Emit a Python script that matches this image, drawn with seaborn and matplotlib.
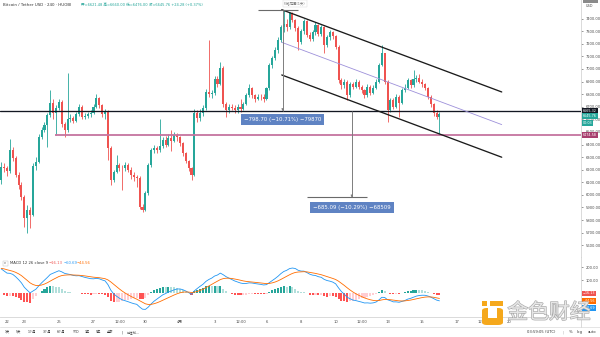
import numpy as np
import pandas as pd
import matplotlib
matplotlib.use("Agg")
import matplotlib.pyplot as plt
import matplotlib.patheffects as pe
from matplotlib.patches import FancyBboxPatch, Rectangle
from matplotlib.lines import Line2D
import seaborn as sns

# ---- BTC/USDT 4h candles on HUOBI, 21 Mar 04:00 -> 16 Apr 00:00 (UTC) ----
first_open = 6118
closes = [
    6224, 6210, 6190, 6356, 6290, 6158, 6078, 5985, 5814, 5880,
    5840, 6230, 6263, 6462, 6515, 6555, 6634, 6732, 6650, 6690,
    6740, 6560, 6515, 6600, 6610, 6590, 6640, 6700, 6620, 6630,
    6640, 6650, 6700, 6770, 6710, 6640, 6660, 6370, 6118, 6184,
    6237, 6215, 6210, 6237, 6200, 6160, 6140, 6135, 5906, 5880,
    6012, 6237, 6356, 6370, 6360, 6390, 6436, 6400, 6450, 6430,
    6475, 6460, 6410, 6330, 6270, 6210, 6160, 6650, 6610, 6650,
    6687, 6819, 6800, 6806, 6920, 6880, 7007, 6720, 6674, 6700,
    6690, 6670, 6700, 6680, 6720, 6790, 6845, 6793, 6765, 6780,
    6775, 6760, 6846, 7031, 7084, 7150, 7230, 7335, 7360, 7335,
    7442, 7390, 7325, 7216, 7300, 7380, 7270, 7240, 7290, 7350,
    7280, 7330, 7190, 7250, 7290, 7260, 7176, 6912, 6870, 6900,
    6793, 6880, 6860, 6900, 6860, 6830, 6793, 6860, 6810, 6850,
    6900, 7031, 7123, 6899, 6674, 6753, 6700, 6780, 6730, 6833,
    6850, 6912, 6870, 6920, 6930, 6900, 6880, 6850, 6779, 6720,
    6650, 6621.48, 6645.76,
]
highs = [
    6260, 6250, 6230, 6441, 6380, 6310, 6180, 6100, 6000, 5920,
    5900, 6250, 6300, 6480, 6540, 6580, 6650, 6833, 6760, 6710,
    6760, 6750, 6580, 6965, 6640, 6630, 6660, 6720, 6710, 6650,
    6660, 6670, 6720, 6800, 6780, 6720, 6680, 6670, 6390, 6200,
    6316, 6250, 6240, 6260, 6250, 6220, 6180, 6160, 6150, 5930,
    6030, 6250, 6370, 6400, 6390, 6602, 6460, 6470, 6480, 6515,
    6500, 6490, 6470, 6420, 6340, 6280, 6220, 6680, 6670, 6680,
    6710, 6840, 7230, 6830, 6940, 6940, 7057, 7020, 6740, 6720,
    6720, 6710, 6720, 6760, 6740, 6810, 6880, 6860, 6800, 6800,
    6800, 6800, 6860, 7050, 7100, 7170, 7250, 7350, 7464.02, 7400,
    7455, 7450, 7400, 7340, 7320, 7400, 7390, 7290, 7310, 7370,
    7360, 7350, 7340, 7270, 7310, 7300, 7270, 7190, 6930, 6920,
    6910, 6900, 6900, 6920, 6910, 6870, 6840, 6880, 6870, 6870,
    6920, 7050, 7190, 7130, 6910, 6770, 6770, 6800, 6790, 6850,
    6880, 6930, 6920, 6991, 6950, 6960, 6920, 6890, 6860, 6790,
    6730, 6670, 6660,
]
lows = [
    6090, 6180, 6150, 6170, 6270, 6140, 6050, 5960, 5747, 5697,
    5735, 5830, 6200, 6250, 6440, 6500, 6382, 6620, 6600, 6474,
    6670, 6540, 6462, 6500, 6580, 6570, 6580, 6630, 6600, 6600,
    6610, 6620, 6640, 6690, 6690, 6620, 6600, 6280, 6078, 6100,
    6170, 6190, 6039, 6190, 6180, 6130, 6110, 6060, 5890, 5866,
    5870, 6000, 6220, 6330, 6330, 6340, 6370, 6380, 6390, 6350,
    6420, 6430, 6390, 6310, 6250, 6190, 6120, 6150, 6580, 6590,
    6630, 6670, 6780, 6770, 6790, 6860, 6870, 6700, 6620, 6650,
    6670, 6650, 6650, 6660, 6670, 6710, 6780, 6770, 6740, 6750,
    6750, 6740, 6750, 6830, 7010, 7070, 7130, 7210, 7290, 7300,
    7320, 7370, 7300, 7150, 7200, 7280, 7250, 7220, 7220, 7270,
    7260, 7260, 7126, 7170, 7230, 7240, 7160, 6890, 6840, 6850,
    6753, 6780, 6840, 6850, 6840, 6810, 6770, 6780, 6790, 6800,
    6840, 6890, 7020, 6880, 6581, 6660, 6680, 6690, 6621, 6720,
    6820, 6840, 6850, 6860, 6900, 6890, 6860, 6830, 6760, 6700,
    6630, 6600, 6476,
]

# drawn price levels
resistance_level = 6665.32
support_level = 6474.58
support_start_bar = 18.6

# price-range measurements (bar position, change from the resistance level)
range1_bar, range1_change = 97.6, 798.70
range1_label = "−798.70 (−10.71%) −79870"
range2_bar, range2_change = 121.6, -685.09
range2_label = "−685.09 (−10.29%) −68509"

# descending channel: (bar, price) end points
channel_bars = [97.3, 173.6]
channel_upper = [7470, 6817]
channel_lower = [6952, 6299]

# MACD(12, 26, 9) state carried in from the bars before the first candle
macd_seed_fast = 6250
macd_seed_slow = 6044
macd_seed_signal = 194

time_ticks = [2, 8, 20, 32, 41, 50, 62, 74, 83, 92, 104, 116, 125, 134, 146, 158, 167, 176]
time_labels = ["22", "23", "25", "27", "12:00", "30", "4月", "3", "12:00", "6",
               "8", "10", "12:00", "13", "15", "17", "12:00", "20"]
price_ticks = [5600, 5700, 5800, 5900, 6000, 6100, 6200, 6300, 6400, 6500,
               6600, 6700, 6800, 6900, 7000, 7100, 7200, 7300, 7400]
macd_ticks = [100, 200]
macd_tag_texts = ["−16.13", "−44.56", "−60.69"]

toolbar_left = ["1天", "5天", "1个月", "3个月", "6个月", "YTD", "1年", "5年", "全部", "|", "前往到..."]
toolbar_left_x = [5, 16, 28, 43, 57, 73, 85, 96, 107, 122, 127]

sns.set_theme(style="white")
plt.rcParams["font.family"] = ["DejaVu Sans", "Noto Sans CJK SC"]
plt.rcParams["axes.unicode_minus"] = True

UP, DOWN = "#26a69a", "#ef5350"
TXT = "#4a4a4a"
SMALL = 2.7

opens = [first_open] + closes[:-1]
df = pd.DataFrame({"bar": np.arange(len(closes)), "open": opens,
                   "high": highs, "low": lows, "close": closes})

# MACD 12/26/9 from the closes
fast, slow, sig = macd_seed_fast, macd_seed_slow, macd_seed_signal
m_line, s_line = [], []
for c in closes:
    fast += 2 / 13 * (c - fast)
    slow += 2 / 27 * (c - slow)
    m = fast - slow
    sig += 2 / 10 * (m - sig)
    m_line.append(m)
    s_line.append(sig)
df["macd"] = m_line
df["signal"] = s_line
df["hist"] = df["macd"] - df["signal"]
prev = df["hist"].shift(1).fillna(df["hist"])
hist_col = np.where(df["hist"] >= 0,
                    np.where(df["hist"] >= prev, "#26a69a", "#b2dfdb"),
                    np.where(df["hist"] < prev, "#ff5252", "#ffcdd2"))

W, H = 600, 337
fig = plt.figure(figsize=(6, 3.37), dpi=100)
fig.patch.set_facecolor("white")


def fx(x):
    return x / W


def fy(y):
    return 1 - y / H


ax = fig.add_axes([0, fy(256.5), fx(581), 256.5 / H])
axm = fig.add_axes([0, fy(317), fx(581), (317 - 256.5) / H])
XLIM = (-0.434, 201.1)

# ---- candles ----
up = df["close"] >= df["open"]
col = np.where(up, UP, DOWN)
body_bottom = np.minimum(df["open"], df["close"])
body_h = np.maximum((df["close"] - df["open"]).abs(), 5)
ax.vlines(df["bar"], df["low"], df["high"], colors=col, linewidth=0.6, zorder=2)
ax.bar(df["bar"], body_h, bottom=body_bottom, width=0.72, color=col, linewidth=0, zorder=3)

# ---- levels ----
ax.axhline(resistance_level, color="#131722", lw=0.95, zorder=4)
ax.hlines(support_level, support_start_bar, XLIM[1], color="#c5749f", lw=1.3, zorder=4)

# ---- channel ----
ax.plot(channel_bars, channel_upper, color="#1b1b1b", lw=0.95, zorder=4)
ax.plot(channel_bars, channel_lower, color="#1b1b1b", lw=0.95, zorder=4)
mid = [(a + b) / 2 for a, b in zip(channel_upper, channel_lower)]
ax.plot(channel_bars, mid, color="#9d90da", lw=0.6, zorder=4)

# ---- price range 1 ----
r1_top = resistance_level + range1_change
ax.vlines(range1_bar, resistance_level, r1_top, color="#7d7d7d", lw=0.7, zorder=5)
ax.hlines(r1_top, range1_bar - 8.4, range1_bar + 5.3, color="#6a6a6a", lw=0.8, zorder=5)
ax.annotate("", xy=(range1_bar, resistance_level), xytext=(range1_bar, resistance_level + 40),
            arrowprops=dict(arrowstyle="-|>", color="#7d7d7d", lw=0.5, mutation_scale=3), zorder=5)
ax.text(range1_bar, resistance_level - 67, range1_label, fontsize=3.9, color="white",
        ha="center", va="center", zorder=6,
        bbox=dict(boxstyle="square,pad=0.55", fc="#5f83c3", ec="none"))
ax.text(range1_bar + 0.5, r1_top + 55, "价格范围(1天)", fontsize=2.4, color="#777",
        ha="left", va="center", zorder=6,
        bbox=dict(boxstyle="square,pad=0.4", fc="white", ec="#d8d8d8", lw=0.3))

# ---- price range 2 ----
r2_bot = resistance_level + range2_change
ax.vlines(range2_bar, r2_bot, resistance_level, color="#7d7d7d", lw=0.7, zorder=5)
ax.hlines(r2_bot, range2_bar - 15.5, range2_bar + 5.3, color="#6a6a6a", lw=0.8, zorder=5)
ax.annotate("", xy=(range2_bar, r2_bot), xytext=(range2_bar, r2_bot + 40),
            arrowprops=dict(arrowstyle="-|>", color="#7d7d7d", lw=0.5, mutation_scale=3), zorder=5)
ax.text(range2_bar, r2_bot - 78, range2_label, fontsize=3.9, color="white",
        ha="center", va="center", zorder=6,
        bbox=dict(boxstyle="square,pad=0.55", fc="#5f83c3", ec="none"))

ax.set_xlim(*XLIM)
ax.set_ylim(5511, 7547)
ax.set_xticks([])
ax.yaxis.tick_right()
ax.set_yticks(price_ticks)
ax.set_yticklabels([f"{v:.2f}" for v in price_ticks])
ax.tick_params(axis="y", labelsize=2.6, length=1.5, width=0.4, pad=1.6, colors=TXT)


# right-axis price tags
def tag(a, value, text, fc, dy=0):
    a.annotate(text, xy=(1.0, value), xycoords=("axes fraction", "data"),
               xytext=(1.4, dy), textcoords="offset points", fontsize=2.4,
               color="white", ha="left", va="center", annotation_clip=False, zorder=10,
               bbox=dict(boxstyle="square,pad=0.25", fc=fc, ec="none"))


tag(ax, resistance_level, f"{resistance_level:.2f}", "#131722")
tag(ax, closes[-1], f"{closes[-1]:.2f}", UP, dy=-2.0)
tag(ax, closes[-1], "00:03", UP, dy=-6.6)
tag(ax, support_level, f"{support_level:.2f}", "#a8406f")

# ---- MACD pane ----
axm.bar(df["bar"], df["hist"], width=0.72, color=hist_col, linewidth=0)
sns.lineplot(data=df, x="bar", y="macd", ax=axm, color="#2196f3", lw=0.6)
sns.lineplot(data=df, x="bar", y="signal", ax=axm, color="#ff6d00", lw=0.6)
axm.set_xlim(*XLIM)
axm.set_ylim(-193, 287)
axm.set_xlabel("")
axm.set_ylabel("")
axm.yaxis.tick_right()
axm.set_yticks(macd_ticks)
axm.set_yticklabels([f"{v:.2f}" for v in macd_ticks])
axm.tick_params(axis="y", labelsize=2.6, length=1.5, width=0.4, pad=1.6, colors=TXT)
axm.set_xticks(time_ticks)
axm.set_xticklabels(time_labels)
axm.tick_params(axis="x", labelsize=SMALL, length=0, pad=2.4, colors=TXT)

# MACD value tags, stacked below the zero line so they stay readable
tag(axm, df["hist"].iloc[-1], macd_tag_texts[0], "#ef5350", dy=1.2)
tag(axm, df["hist"].iloc[-1], macd_tag_texts[1], "#ff6d00", dy=-4.1)
tag(axm, df["hist"].iloc[-1], macd_tag_texts[2], "#2196f3", dy=-9.4)

for a in (ax, axm):
    a.set_facecolor("white")
    a.grid(False)
    for s in ("top", "left"):
        a.spines[s].set_visible(False)
    for s in ("right", "bottom"):
        a.spines[s].set_color("#d4d4d4")
        a.spines[s].set_linewidth(0.6)

# ---- frame lines of the layout ----
fig.add_artist(Line2D([0, 1], [fy(326.5), fy(326.5)], color="#e0e0e0", lw=0.6))
fig.add_artist(Line2D([fx(581), fx(581)], [fy(317), fy(326.5)], color="#d4d4d4", lw=0.6))

# ---- header ----
fig.text(fx(3), fy(5), "Bitcoin / Tether USD · 240 · HUOBI", fontsize=2.9, color="#333",
         ha="left", va="center")
chg = closes[-1] - opens[-1]
fig.text(fx(81), fy(5),
         f"开={opens[-1]:.2f} 高={highs[-1]:.2f} 低={lows[-1]:.2f} 收={closes[-1]:.2f} "
         f"+{chg:.2f} (+{chg / opens[-1] * 100:.2f}%)",
         fontsize=2.6, color=UP, ha="left", va="center")
fig.add_artist(Rectangle((fx(583), fy(2.5)), fx(15), 2.5 / H, color="#8a8a8a", lw=0))
fig.text(fx(590), fy(6), "USD", fontsize=2.5, color=TXT, ha="center", va="center")

# ---- MACD legend ----
fig.add_artist(Rectangle((fx(2.5), fy(265.5)), fx(5), 5 / H, fc="white", ec="#bbbbbb", lw=0.3))
fig.text(fx(5), fy(263), "v", fontsize=2.3, color=TXT, ha="center", va="center")
fig.text(fx(10), fy(263), "MACD 12 26 close 9", fontsize=SMALL, color="#333", ha="left", va="center")
fig.text(fx(49), fy(263), macd_tag_texts[0], fontsize=SMALL, color="#ef5350", ha="left", va="center")
fig.text(fx(64), fy(263), macd_tag_texts[2], fontsize=SMALL, color="#2196f3", ha="left", va="center")
fig.text(fx(77), fy(263), macd_tag_texts[1], fontsize=SMALL, color="#ff6d00", ha="left", va="center")

# ---- bottom toolbar ----
for x, t in zip(toolbar_left_x, toolbar_left):
    fig.text(fx(x), fy(332), t, fontsize=2.3, color="#333", ha="left", va="center")
fig.text(fx(541), fy(332), "03:59:05 (UTC)", fontsize=SMALL, color="#333", ha="center", va="center")
fig.text(fx(563), fy(332), "|", fontsize=SMALL, color="#aaa", ha="center", va="center")
fig.text(fx(571), fy(332), "%", fontsize=SMALL, color="#333", ha="center", va="center")
fig.text(fx(580), fy(332), "log", fontsize=SMALL, color="#333", ha="center", va="center")
fig.text(fx(592), fy(332), "auto", fontsize=SMALL, color="#333", ha="center", va="center")

# ---- watermark ----
gold = "#f5a81c"
fig.add_artist(Rectangle((fx(482), fy(306)), fx(5), 5 / H, color=gold, lw=0, zorder=20))
fig.add_artist(FancyBboxPatch((fx(482), fy(325)), fx(21), 17 / H,
                              boxstyle="round,pad=0,rounding_size=0.008", fc=gold, ec="none", zorder=20))
fig.add_artist(Rectangle((fx(487.5), fy(318)), fx(9.5), 10.5 / H, color="white", lw=0, zorder=21))
fig.add_artist(Rectangle((fx(490), fy(306)), fx(13), 5 / H, color=gold, lw=0, zorder=20))
fig.text(fx(549), fy(312.5), "金色财经", fontsize=15, color="#e6e6e6", ha="center", va="center",
         family=["Noto Sans CJK SC"], zorder=22,
         path_effects=[pe.withStroke(linewidth=0.9, foreground="#a9a9a9")])

fig.savefig("out.png", dpi=100, facecolor="white")
